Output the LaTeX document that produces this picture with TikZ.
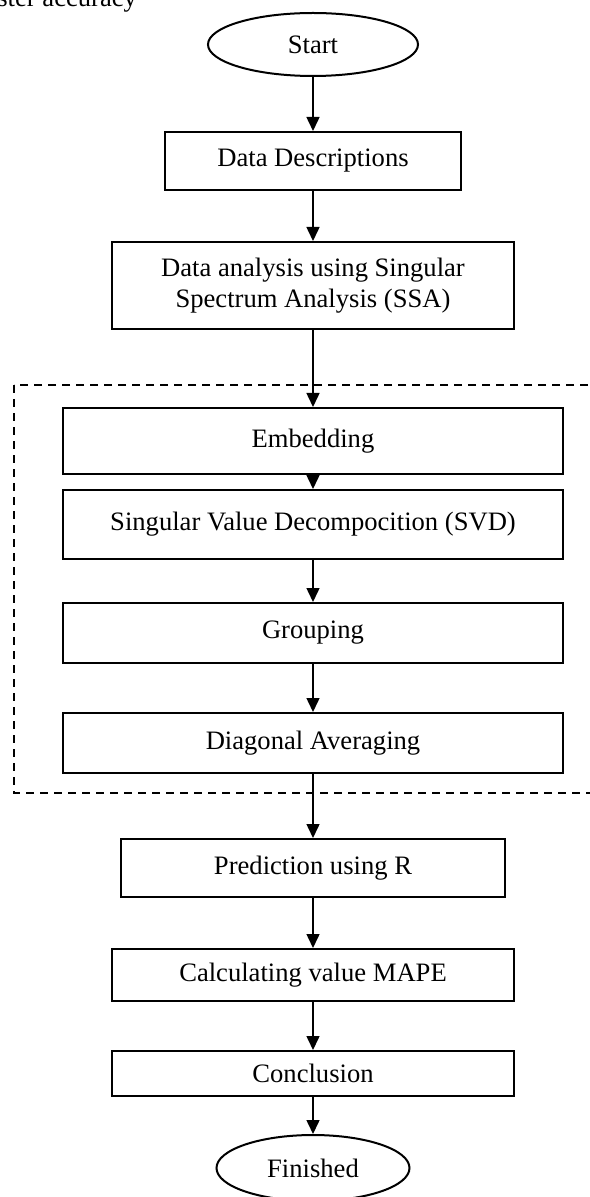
\documentclass[tikz,border=0pt]{standalone}
\usepackage{fontspec}
\setmainfont{Liberation Serif}
\usetikzlibrary{arrows.meta,shapes.geometric}
\begin{document}
\begin{tikzpicture}[x=0.5pt, y=-0.5pt,
    term/.style={draw, ellipse, line width=1pt, inner sep=0pt},
    blk/.style={draw, rectangle, line width=1pt, inner sep=2pt, align=center},
    flow/.style={line width=0.75pt, -{Triangle[width=6.5pt,length=7pt]}},
    frame/.style={line width=0.9pt, dash pattern=on 4.2pt off 2.8pt},
    every node/.style={font=\fontsize{13.3}{15.5}\selectfont}]
  \useasboundingbox (0,0) rectangle (589,1197);
  \node[anchor=base west, inner sep=0pt] (cut) at (-3,7) {ster accuracy};
  \draw[frame] (14,385) rectangle (600,793);
  \node[term, minimum width=105pt, minimum height=31.5pt] (start) at (313,44.5) {Start};
  \node[blk, minimum width=148pt, minimum height=29pt] (desc) at (313,161) {Data Descriptions};
  \node[blk, minimum width=201pt, minimum height=43.5pt] (ssa) at (313,285.5)
    {Data analysis using Singular\\Spectrum Analysis (SSA)};
  \node[blk, minimum width=250pt, minimum height=33pt] (emb) at (313,441) {Embedding};
  \node[blk, minimum width=250pt, minimum height=34.5pt] (svd) at (313,524.5)
    {Singular Value Decompocition (SVD)};
  \node[blk, minimum width=250pt, minimum height=30pt] (grp) at (313,633) {Grouping};
  \node[blk, minimum width=250pt, minimum height=30pt] (diag) at (313,743) {Diagonal Averaging};
  \node[blk, minimum width=192pt, minimum height=29pt] (pred) at (313,868) {Prediction using R};
  \node[blk, minimum width=201pt, minimum height=26pt] (mape) at (313,975) {Calculating value MAPE};
  \node[blk, minimum width=201pt, minimum height=22.5pt] (concl) at (313,1073.5) {Conclusion};
  \node[term, minimum width=96.5pt, minimum height=33pt] (fin) at (313,1168) {Finished};
  \draw[flow] (start) -- (desc);
  \draw[flow] (desc) -- (ssa);
  \draw[flow] (ssa) -- (emb);
  \draw[flow] (emb) -- (svd);
  \draw[flow] (svd) -- (grp);
  \draw[flow] (grp) -- (diag);
  \draw[flow] (diag) -- (pred);
  \draw[flow] (pred) -- (mape);
  \draw[flow] (mape) -- (concl);
  \draw[flow] (concl) -- (fin);
\end{tikzpicture}
\end{document}
